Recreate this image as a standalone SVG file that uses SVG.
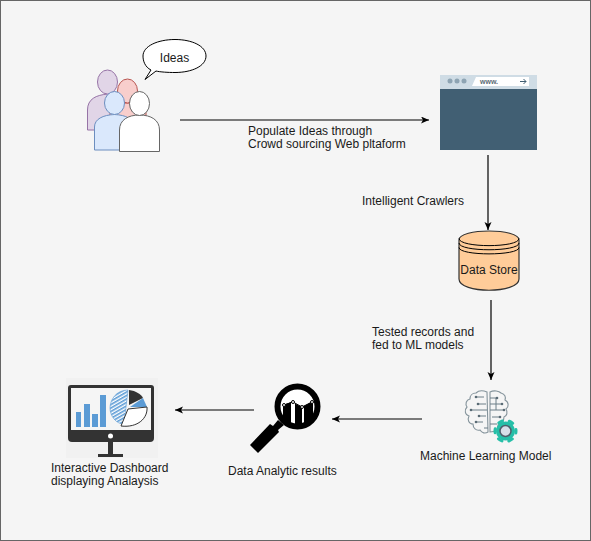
<svg xmlns="http://www.w3.org/2000/svg" width="591" height="541" viewBox="0 0 591 541">
<style>
text{font-family:"Liberation Sans",Arial,sans-serif;font-size:12px;fill:#1a1a1a}
.c{fill:none;stroke:#000;stroke-width:1.2}
.p{stroke-width:1}
.b{fill:none;stroke:#6d7e88;stroke-width:1}
.d{fill:#5a6b75}
.l{fill:#f5f5f5;stroke:#84939b;stroke-width:1.100}
</style>
<defs>
<marker id="a" markerWidth="9" markerHeight="8" refX="8" refY="3.5" orient="auto" markerUnits="userSpaceOnUse"><path d="M0 0L8 3.5L0 7L2 3.5Z" fill="#000"/></marker>
<pattern id="h" width="3" height="3" patternUnits="userSpaceOnUse" patternTransform="rotate(-30)"><rect width="3" height="3" fill="#fff"/><rect width="3" height="1.6" fill="#5b9bd5"/></pattern>
<clipPath id="lens"><circle cx="297.500" cy="406.500" r="18.500"/></clipPath>
</defs>
<rect x="0.5" y="0.5" width="590" height="540" fill="#f5f5f5" stroke="#666"/>
<g id="connectors">
<path class="c" d="M180 120H429" marker-end="url(#a)"/>
<path class="c" d="M488 155V230" marker-end="url(#a)"/>
<path class="c" d="M491 300V380" marker-end="url(#a)"/>
<path class="c" d="M422 419H332" marker-end="url(#a)"/>
<path class="c" d="M254 410H175" marker-end="url(#a)"/>
</g>
<g id="people">
<path class="p" fill="#e1d5e7" stroke="#9673a6" d="M87.500 130V110C87.500 99 96 95 108 94C118 95 124 99 124 108V130Z"/>
<ellipse class="p" cx="107.500" cy="82" rx="10" ry="12" fill="#e1d5e7" stroke="#9673a6"/>
<path class="p" fill="#f8cecc" stroke="#b85450" d="M110 125V112C110 106 118 103 127 103C137 103 146 106 146 112V125Z"/>
<ellipse class="p" cx="127.500" cy="91" rx="10" ry="12" fill="#f8cecc" stroke="#b85450"/>
<path class="p" fill="#dae8fc" stroke="#6c8ebf" d="M94.500 150V127C94.500 119 103 115 114.500 114.500C126 115 134 119 134 127V150Z"/>
<ellipse class="p" cx="114.500" cy="103" rx="10" ry="11.500" fill="#dae8fc" stroke="#6c8ebf"/>
<path class="p" fill="#fff" stroke="#666" d="M119.500 151.500V130C119.500 120 128 115 139.500 115C151 115 159.500 120 159.500 130V151.500Z"/>
<ellipse class="p" cx="139.500" cy="103.500" rx="10" ry="12" fill="#fff" stroke="#666"/>
</g>
<g id="ideas">
<path class="p" fill="#fff" stroke="#000" d="M145 79.500L151 70C145 67 143 61 143 56C143 46 158 39.500 175 39.500C192 39.500 206 46 206 56C206 66 192 72.500 175 72.500C168 72.500 160 72 156 71Z"/>
<text x="174.500" y="62" text-anchor="middle">Ideas</text>
</g>
<g id="browser">
<rect x="440" y="75" width="97" height="75" fill="#cfdce5"/>
<rect x="440" y="89" width="97" height="61" fill="#415f73"/>
<circle cx="450" cy="81" r="2.500" fill="#8ea4b3"/><circle cx="457" cy="81" r="2.500" fill="#8ea4b3"/><circle cx="464" cy="81" r="2.500" fill="#8ea4b3"/>
<path d="M476 77H529V86H472Z" fill="#fff"/>
<text x="480" y="84" font-size="7" font-weight="bold" style="font-size:7px;fill:#5a6b75">www.</text>
<path d="M520 81.500H526M523.500 79L526 81.500L523.500 84" fill="none" stroke="#415f73"/>
</g>
<g id="text-edges">
<text x="248" y="135">Populate Ideas through</text>
<text x="248" y="148">Crowd sourcing Web pltaform</text>
<text x="362" y="205">Intelligent Crawlers</text>
<text x="372" y="336">Tested records and</text>
<text x="372" y="349">fed to ML models</text>
</g>
<g id="datastore">
<path fill="#ffcc99" stroke="#333" stroke-width="1.200" d="M459 240C459 228 519 228 519 240V279C519 294 459 294 459 279Z"/>
<path fill="none" stroke="#000" d="M459 238.500C459 248 519 248 519 238.500M459 243C459 252 519 252 519 243M459 247.500C459 256 519 256 519 247.500"/>
<text x="489" y="274" text-anchor="middle">Data Store</text>
</g>
<g id="ml">
<path class="l" d="M487 392C482 390 478 391 476 393C472 393 470 396 470 399C466 400 465 404 467 407C464 410 465 415 469 416C467 420 469 424 473 424C473 428 476 431 480 430C482 433 485 434 488 432Z"/>
<path class="l" d="M490 392C494 390 499 391 501 393C505 394 506 397 505 400C509 402 509 407 506 409C508 412 507 416 504 417C504 422 500 424 498 425C498 429 495 432 490 432Z"/>
<path class="b" d="M484 397H476M486 404H478M487 410H471M479 416H486M476 422H483M484 428H488M490 398H497M490 404H502M490 410H504M492 417H500M496 410V398M490 424H497"/>
<g class="d"><circle cx="476" cy="397" r="1.300"/><circle cx="478" cy="404" r="1.300"/><circle cx="471" cy="410" r="1.300"/><circle cx="479" cy="416" r="1.300"/><circle cx="476" cy="422" r="1.300"/><circle cx="497" cy="398" r="1.300"/><circle cx="502" cy="404" r="1.300"/><circle cx="504" cy="410" r="1.300"/><circle cx="500" cy="417" r="1.300"/></g>
<circle cx="505.500" cy="431" r="9.500" fill="#26bfa8"/>
<circle cx="505.500" cy="431" r="10.500" fill="none" stroke="#26bfa8" stroke-width="3" stroke-linecap="round" stroke-dasharray="4 7" stroke-dashoffset="2"/>
<circle cx="505.500" cy="431" r="5.500" fill="#d8dfe8" stroke="#4f5f6b" stroke-width="1.500"/>
<text x="420" y="460">Machine Learning Model</text>
</g>
<g id="analytics">
<circle cx="297.500" cy="406.500" r="20" fill="#fff" stroke="#000" stroke-width="6"/>
<g clip-path="url(#lens)"><path d="M283 405L291 402V430H283ZM295 403.500L302 407V430H295ZM304 406L313 401V430H304Z"/></g>
<path fill="none" stroke="#000" d="M284 405L293 402L302 407L312 402"/>
<g fill="#fff" stroke="#000"><circle cx="284" cy="405" r="1.500"/><circle cx="293" cy="402" r="1.500"/><circle cx="302" cy="407" r="1.500"/><circle cx="312" cy="402" r="1.500"/></g>
<path d="M250 445L270 424L273 426L278 420L284 425L278 430L279 432L258 453Z"/>
<text x="228" y="475">Data Analytic results</text>
</g>
<g id="dashboard">
<rect x="66" y="378" width="92" height="80" fill="#f1f1f1"/>
<path d="M71 385H151Q154 385 154 388V438Q154 442 150 442H72Q68 442 68 438V388Q68 385 71 385Z" fill="#333"/>
<rect x="71" y="388" width="80" height="42" fill="#f5f5f5"/>
<circle cx="110.500" cy="436" r="2.500" fill="#fff"/>
<path d="M108 442H113V454H123V457H98V454H108Z" fill="#333"/>
<path d="M76 412H81V427H76ZM84 404H90V427H84ZM92 414H98V427H92ZM100 395H106V427H100Z" fill="#5b9bd5"/>
<path d="M128 390C116 390 110 400 110 408C110 416 116 424 124 424Z" fill="url(#h)" stroke="#5b9bd5" stroke-width=".6"/>
<path d="M129 390C136 391 141 394 143 398L129 405Z" fill="#333"/>
<path d="M130 407L143 398L147 407Z" fill="#5b9bd5"/>
<path d="M128 409L147 407C148 418 138 428 121 426Z" fill="#fff" stroke="#333"/>
<text x="51" y="472">Interactive Dashboard</text>
<text x="51" y="485">displaying Analaysis</text>
</g>
</svg>
